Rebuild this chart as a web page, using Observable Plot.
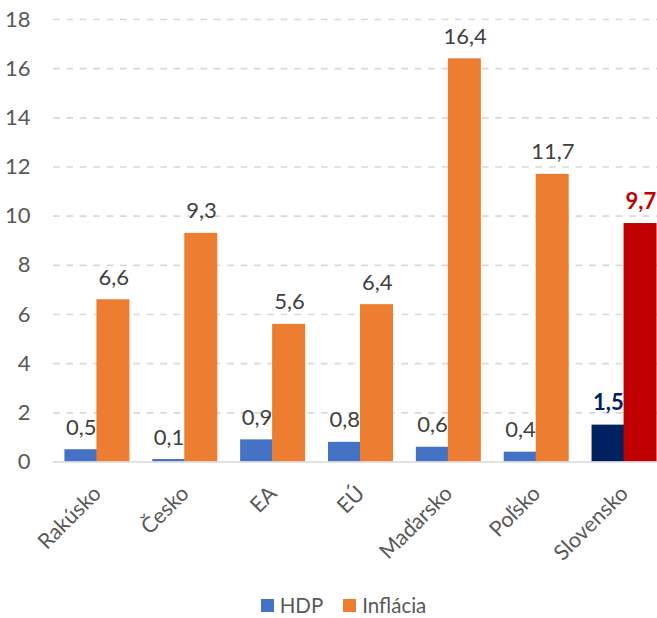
<!DOCTYPE html>
<html>
<head>
<meta charset="utf-8">
<script src="https://cdn.jsdelivr.net/npm/d3@7"></script>
<script src="https://cdn.jsdelivr.net/npm/@observablehq/plot@0.6"></script>
<style>
  body { margin: 0; background: #fff; font-family: Lato, "Open Sans", sans-serif; }
  #chart svg { display: block; }
  #legend { display: flex; justify-content: center; align-items: center; font-size: 20.5px; line-height: 22px; color: #595959; height: 22px; padding-left: 30px; margin-top: 10px; }
  .item { display: flex; align-items: center; margin: 0 10px; }
  .sw { width: 13px; height: 13px; margin-right: 6px; display: inline-block; }
</style>
</head>
<body>
<div id="chart"></div>
<div id="legend"></div>
<script>
const countries = ["Rakúsko", "Česko", "EA", "EÚ", "Maďarsko", "Poľsko", "Slovensko"];
const series = ["HDP", "Inflácia"];
const hdp = [0.5, 0.1, 0.9, 0.8, 0.6, 0.4, 1.5];
const inflacia = [6.6, 9.3, 5.6, 6.4, 16.4, 11.7, 9.7];
const yTicks = [0, 2, 4, 6, 8, 10, 12, 14, 16, 18];
const highlight = "Slovensko";

const colors = { "HDP": "#4472C4", "Inflácia": "#ED7D31" };
const highlightColors = { "HDP": "#002060", "Inflácia": "#C00000" };

const hdpData = countries.map((c, i) => ({ country: c, series: "HDP", value: hdp[i] }));
const infData = countries.map((c, i) => ({ country: c, series: "Inflácia", value: inflacia[i] }));

const fillOf = d => d.country === highlight ? highlightColors[d.series] : colors[d.series];
const fmt = v => v.toFixed(1).replace(".", ",");

const W = 657, ML = 53, MR = -11;
const paddingInner = 0.26, paddingOuter = 0.13;
const step = (W - ML - MR) / (countries.length - paddingInner + 2 * paddingOuter);
const half = step * (1 - paddingInner) / 2;

const labelMarks = (data) => {
  const dx = data[0].series === "HDP" ? -half / 2 : half / 2;
  const common = { x: "country", y: "value", text: d => fmt(d.value), dx, dy: -15, lineAnchor: "bottom", fontSize: 22 };
  return [
    Plot.text(data.filter(d => d.country !== highlight), { ...common, fill: "#404040" }),
    Plot.text(data.filter(d => d.country === highlight), { ...common, fill: fillOf, fontWeight: "bold" })
  ];
};

const chart = Plot.plot({
  width: W,
  height: 584,
  marginLeft: ML,
  marginRight: MR,
  marginTop: 19,
  marginBottom: 122.5,
  style: { fontFamily: "Lato, 'Open Sans', sans-serif", background: "#fff", overflow: "visible" },
  x: { domain: countries, paddingInner, paddingOuter, round: false, axis: null },
  y: { domain: [0, 18], axis: null },
  color: { type: "identity" },
  marks: [
    Plot.ruleY(yTicks.filter(t => t > 0), { stroke: "#D9D9D9", strokeWidth: 1.6, strokeDasharray: "6.7,6.7" }),
    Plot.axisY({ ticks: yTicks, tickSize: 0, tickPadding: 23, fontSize: 22, fill: "#595959", tickFormat: d => d, label: null }),
    Plot.barY(hdpData, { x: "country", y: "value", fill: fillOf, insetRight: half }),
    Plot.barY(infData, { x: "country", y: "value", fill: fillOf, insetLeft: half - 0.5 }),
    Plot.ruleY([0], { stroke: "#D9D9D9", strokeWidth: 1.6 }),
    ...labelMarks(hdpData),
    ...labelMarks(infData),
    Plot.axisX({ anchor: "bottom", tickSize: 0, tickPadding: 28, tickRotate: -45, fontSize: 21.5, fill: "#595959", label: null })
  ]
});
document.getElementById("chart").append(chart);

const legend = document.getElementById("legend");
series.forEach(s => {
  const item = document.createElement("span");
  item.className = "item";
  item.innerHTML = `<span class="sw" style="background:${colors[s]}"></span>${s}`;
  legend.append(item);
});
</script>
</body>
</html>
